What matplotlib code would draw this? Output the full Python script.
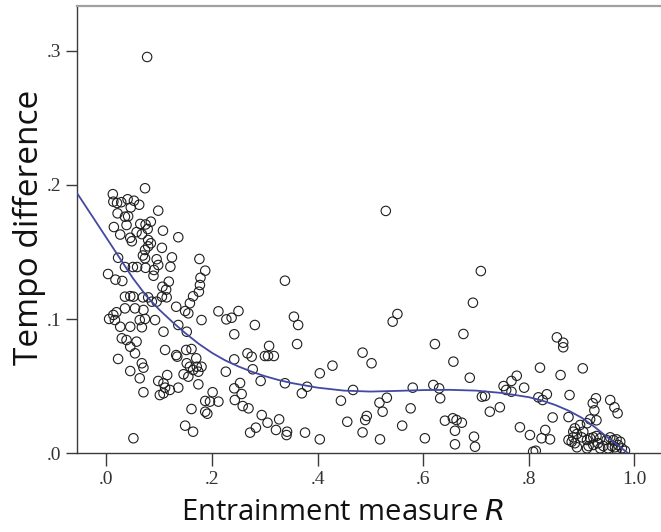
import matplotlib
matplotlib.use('Agg')
import matplotlib.pyplot as plt

# ---------------- data ----------------
entrainment_R = [
    0.077,
    0.073, 0.012, 0.013, 0.020, 0.028, 0.040, 0.052, 0.062, 0.046, 0.098,
    0.021, 0.035, 0.041, 0.038, 0.014, 0.026, 0.064, 0.074, 0.084, 0.078,
    0.107, 0.057, 0.067, 0.045, 0.048, 0.136, 0.079, 0.084, 0.079, 0.105,
    0.073, 0.069, 0.073, 0.022, 0.095, 0.098, 0.124, 0.121, 0.176, 0.035,
    0.050, 0.058, 0.074, 0.090, 0.187, 0.178, 0.003, 0.017, 0.030, 0.089,
    0.118, 0.177, 0.106, 0.113, 0.175, 0.164, 0.035, 0.045, 0.051, 0.069,
    0.079, 0.105, 0.114,
    0.086, 0.095, 0.158, 0.035, 0.054, 0.070, 0.019, 0.013, 0.005, 0.016,
    0.026, 0.045, 0.063, 0.073, 0.067, 0.092, 0.132, 0.149, 0.155, 0.136,
    0.108, 0.152, 0.180, 0.212, 0.227, 0.237, 0.250, 0.029, 0.038, 0.045,
    0.057, 0.054, 0.022, 0.111, 0.132, 0.134, 0.151, 0.161, 0.170, 0.152,
    0.158, 0.164, 0.171, 0.174, 0.180, 0.146, 0.155, 0.174, 0.226, 0.067,
    0.070, 0.045, 0.063, 0.098, 0.108, 0.115, 0.111, 0.120, 0.136, 0.101,
    0.108, 0.070, 0.201, 0.187, 0.196, 0.212, 0.161, 0.187, 0.191, 0.149,
    0.164, 0.051,
    0.338, 0.281, 0.355, 0.363, 0.361, 0.542, 0.551, 0.242, 0.242, 0.267,
    0.275, 0.300, 0.306, 0.317, 0.308, 0.277, 0.253, 0.292, 0.242, 0.256,
    0.243, 0.258, 0.269, 0.338, 0.380, 0.370, 0.404, 0.428, 0.485, 0.502,
    0.467, 0.444, 0.531, 0.517, 0.523, 0.576, 0.294, 0.305, 0.327, 0.283,
    0.272, 0.321, 0.342, 0.341, 0.376, 0.404, 0.456, 0.493, 0.490, 0.485,
    0.518, 0.560, 0.529,
    0.694, 0.676, 0.622, 0.657, 0.688, 0.709, 0.853, 0.865, 0.865, 0.821,
    0.902, 0.860, 0.777, 0.767, 0.752, 0.757, 0.767, 0.791, 0.580, 0.619,
    0.630, 0.632, 0.711, 0.717, 0.818, 0.834, 0.826, 0.877, 0.726, 0.745,
    0.641, 0.656, 0.663, 0.673, 0.660, 0.783, 0.802, 0.831, 0.845, 0.824,
    0.840, 0.696, 0.698, 0.660, 0.603, 0.808, 0.813, 0.875, 0.927, 0.921,
    0.924, 0.928, 0.954, 0.962, 0.968, 0.916, 0.910, 0.897, 0.887, 0.884,
    0.891, 0.903, 0.900, 0.884, 0.881, 0.887, 0.875, 0.891, 0.910, 0.916,
    0.922, 0.928, 0.935, 0.931, 0.922, 0.913, 0.910, 0.947, 0.954, 0.960,
    0.966, 0.973, 0.969, 0.963, 0.957, 0.950, 0.976, 0.982, 0.966, 0.941,
    0.935,
]
tempo_diff = [
    0.2953,
    0.1975, 0.1931, 0.1875, 0.1865, 0.1871, 0.1893, 0.1882, 0.1852, 0.1832, 0.1808,
    0.1788, 0.1763, 0.1766, 0.1701, 0.1686, 0.1630, 0.1709, 0.1705, 0.1726, 0.1671,
    0.1659, 0.1648, 0.1633, 0.1606, 0.1580, 0.1610, 0.1589, 0.1565, 0.1542, 0.1531,
    0.1515, 0.1474, 0.1453, 0.1457, 0.1446, 0.1403, 0.1460, 0.1390, 0.1448, 0.1388,
    0.1388, 0.1388, 0.1382, 0.1366, 0.1361, 0.1308, 0.1336, 0.1294, 0.1284, 0.1323,
    0.1279, 0.1254, 0.1241, 0.1219, 0.1204, 0.1170, 0.1167, 0.1171, 0.1167, 0.1162,
    0.1162, 0.1167, 0.1162,
    0.1130, 0.1130, 0.1118, 0.1080, 0.1080, 0.1068, 0.1051, 0.1031, 0.1001, 0.0993,
    0.0943, 0.0943, 0.0993, 0.1001, 0.0939, 0.0993, 0.1092, 0.1060, 0.1043, 0.0956,
    0.0906, 0.0906, 0.0993, 0.1058, 0.0998, 0.1010, 0.1060, 0.0857, 0.0844, 0.0794,
    0.0832, 0.0745, 0.0703, 0.0770, 0.0732, 0.0720, 0.0770, 0.0777, 0.0708, 0.0671,
    0.0645, 0.0621, 0.0645, 0.0608, 0.0645, 0.0589, 0.0571, 0.0514, 0.0608, 0.0671,
    0.0638, 0.0613, 0.0559, 0.0539, 0.0522, 0.0583, 0.0489, 0.0472, 0.0489, 0.0434,
    0.0447, 0.0455, 0.0455, 0.0390, 0.0385, 0.0385, 0.0330, 0.0310, 0.0295, 0.0206,
    0.0161, 0.0112,
    0.1286, 0.0956, 0.1018, 0.0956, 0.0814, 0.0981, 0.1038, 0.0887, 0.0700, 0.0745,
    0.0720, 0.0725, 0.0725, 0.0725, 0.0800, 0.0626, 0.0524, 0.0539, 0.0484, 0.0442,
    0.0397, 0.0352, 0.0335, 0.0522, 0.0496, 0.0447, 0.0596, 0.0653, 0.0750, 0.0671,
    0.0472, 0.0392, 0.0414, 0.0377, 0.0310, 0.0335, 0.0285, 0.0228, 0.0253, 0.0191,
    0.0154, 0.0174, 0.0161, 0.0136, 0.0154, 0.0104, 0.0235, 0.0278, 0.0248, 0.0156,
    0.0104, 0.0206, 0.1806,
    0.1122, 0.0889, 0.0814, 0.0683, 0.0563, 0.1358, 0.0864, 0.0824, 0.0790, 0.0638,
    0.0633, 0.0583, 0.0578, 0.0539, 0.0501, 0.0472, 0.0459, 0.0489, 0.0489, 0.0509,
    0.0484, 0.0410, 0.0422, 0.0427, 0.0417, 0.0440, 0.0397, 0.0434, 0.0310, 0.0343,
    0.0243, 0.0261, 0.0248, 0.0228, 0.0168, 0.0194, 0.0136, 0.0174, 0.0267, 0.0112,
    0.0104, 0.0124, 0.0049, 0.0067, 0.0112, 0.0012, 0.0019, 0.0270, 0.0410, 0.0373,
    0.0320, 0.0246, 0.0397, 0.0343, 0.0298, 0.0253, 0.0224, 0.0211, 0.0186, 0.0161,
    0.0144, 0.0161, 0.0119, 0.0119, 0.0086, 0.0075, 0.0099, 0.0045, 0.0099, 0.0112,
    0.0119, 0.0129, 0.0112, 0.0075, 0.0062, 0.0054, 0.0037, 0.0099, 0.0119, 0.0099,
    0.0104, 0.0086, 0.0062, 0.0045, 0.0054, 0.0037, 0.0037, 0.0019, 0.0025, 0.0054,
    0.0037,
]

# loess fit line
fit_x = [-0.056, -0.025, 0.0, 0.025, 0.05, 0.075, 0.1, 0.125, 0.15, 0.175,
         0.2, 0.225, 0.25, 0.275, 0.3, 0.325, 0.35, 0.4, 0.45, 0.5,
         0.55, 0.6, 0.65, 0.7, 0.75, 0.8, 0.825, 0.85, 0.875, 0.9,
         0.925, 0.95, 0.97, 0.988]
fit_y = [0.194, 0.1755, 0.1605, 0.1455, 0.1305, 0.1175, 0.1070, 0.0978, 0.0893, 0.0815,
         0.0748, 0.0692, 0.0647, 0.0608, 0.0575, 0.0547, 0.0524, 0.0489, 0.0467, 0.0460,
         0.0465, 0.0471, 0.0473, 0.0467, 0.0449, 0.0418, 0.0393, 0.0360, 0.0318, 0.0265,
         0.0195, 0.0115, 0.0055, 0.0]

x_ticks = [0.0, 0.2, 0.4, 0.6, 0.8, 1.0]
x_tick_labels = ['.0', '.2', '.4', '.6', '.8', '1.0']
y_ticks = [0.0, 0.1, 0.2, 0.3]
y_tick_labels = ['.0', '.1', '.2', '.3']

# ---------------- figure ----------------
W, H = 661, 532
fig = plt.figure(figsize=(W / 100, H / 100), dpi=100)
left_px, bottom_px, top_px = 76.7, 453.3, 6.0
ax = fig.add_axes([left_px / W, (H - bottom_px) / H, 1 - left_px / W, (bottom_px - top_px) / H])
ax.set_xlim(-0.0564, 1.0502)
ax.set_ylim(0.0, 0.3333)

ax.scatter(entrainment_R, tempo_diff, s=46, facecolors='none',
           edgecolors='#1e1e1e', linewidths=0.8, zorder=2)
ax.plot(fit_x, fit_y, color='#4349a3', lw=1.3, zorder=3, solid_capstyle='butt')

ax.spines['right'].set_visible(False)
ax.spines['top'].set_color('#a0a0a0')
ax.spines['top'].set_linewidth(1.6)
for s in ('left', 'bottom'):
    ax.spines[s].set_color('#3a3a3a')
    ax.spines[s].set_linewidth(1.0)

ax.set_xticks(x_ticks)
ax.set_xticklabels(x_tick_labels)
ax.set_yticks(y_ticks)
ax.set_yticklabels(y_tick_labels)
ax.tick_params(axis='x', direction='out', length=9, width=1.0, color='#3a3a3a', pad=4)
ax.tick_params(axis='y', direction='out', length=8, width=1.0, color='#3a3a3a', pad=3)
for lab in ax.get_xticklabels() + ax.get_yticklabels():
    lab.set_fontfamily('Liberation Serif')
    lab.set_fontsize(14)
    lab.set_color('#333333')

ax.set_xlabel(r'Entrainment measure $\mathit{R}$', fontsize=21, family='Open Sans',
              color='#111111')
ax.xaxis.set_label_coords((343 - left_px) / (W - left_px), -0.101)
ax.set_ylabel('Tempo difference', fontsize=24, family='Open Sans', color='#111111')
ax.yaxis.set_label_coords(-0.052, 0.506)

fig.savefig('out.png', dpi=100)
